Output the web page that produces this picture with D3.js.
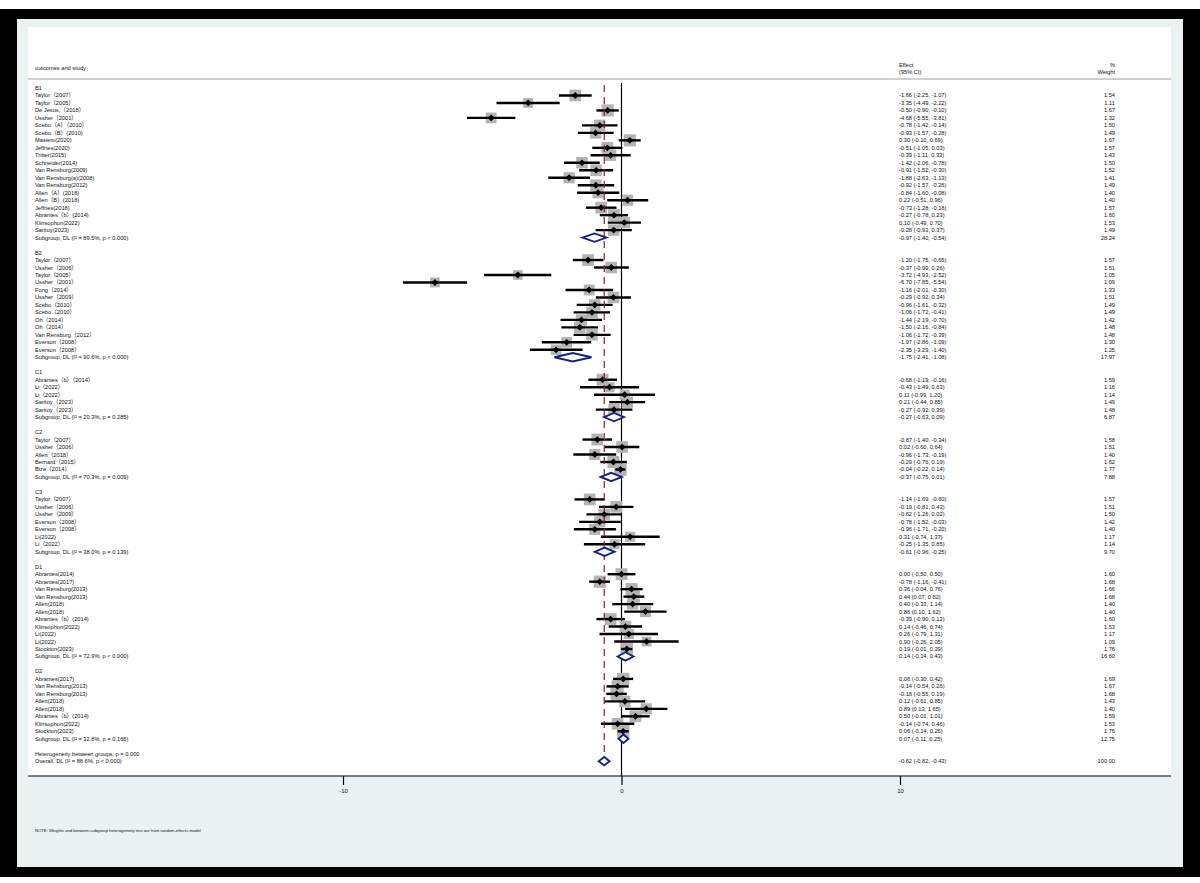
<!DOCTYPE html>
<html>
<head>
<meta charset="utf-8">
<script src="https://cdn.jsdelivr.net/npm/d3@7/dist/d3.min.js"></script>
<style>
  body { margin: 0; background: #fff; }
  svg { display: block; }
  text { font-family: "Liberation Sans", Arial, "Noto Sans CJK SC", sans-serif; fill: #111; }
</style>
</head>
<body>
<svg id="chart" width="1200" height="883"></svg>
<script>
// Study rows per outcome: [label, effect, lower, upper, weight %]
const groupB1 = [
  ["Taylor（2007）", -1.66, -2.25, -1.07, 1.54],
  ["Taylor（2005）", -3.35, -4.49, -2.22, 1.11],
  ["De Jesus,（2018）", -0.50, -0.90, -0.10, 1.67],
  ["Ussher（2001）", -4.68, -5.55, -3.81, 1.32],
  ["Scebo（A）（2010）", -0.78, -1.42, -0.14, 1.50],
  ["Scebo（B）(2010)", -0.93, -1.57, -0.28, 1.49],
  ["Masiero(2020)", 0.30, -0.10, 0.69, 1.67],
  ["Jeffries(2020)", -0.51, -1.05, 0.03, 1.57],
  ["Tritter(2015)", -0.39, -1.11, 0.33, 1.43],
  ["Schneider(2014)", -1.42, -2.06, -0.78, 1.50],
  ["Van Rensburg(2009)", -0.91, -1.52, -0.30, 1.52],
  ["Van Rensburg(a)(2008)", -1.88, -2.63, -1.13, 1.41],
  ["Van Rensburg(2012)", -0.92, -1.57, -0.26, 1.49],
  ["Allen（A）(2018)", -0.84, -1.60, -0.08, 1.40],
  ["Allen（B）(2018)", 0.22, -0.51, 0.96, 1.40],
  ["Jeffries(2018)", -0.73, -1.28, -0.18, 1.57],
  ["Abrantes（b）(2014)", -0.27, -0.78, 0.23, 1.60],
  ["Klinsophon(2022)", 0.10, -0.49, 0.70, 1.53],
  ["Saritoy(2023)", -0.28, -0.93, 0.37, 1.49]
];
const groupB2 = [
  ["Taylor（2007）", -1.20, -1.75, -0.65, 1.57],
  ["Ussher（2006）", -0.37, -0.99, 0.26, 1.51],
  ["Taylor（2005）", -3.72, -4.93, -2.52, 1.05],
  ["Ussher（2001）", -6.70, -7.85, -5.54, 1.09],
  ["Fong（2014）", -1.16, -2.01, -0.30, 1.33],
  ["Ussher（2009）", -0.29, -0.92, 0.34, 1.51],
  ["Scebo（2010）", -0.96, -1.61, -0.32, 1.49],
  ["Scebo（2010）", -1.06, -1.72, -0.41, 1.49],
  ["Oh（2014）", -1.44, -2.19, -0.70, 1.42],
  ["Oh（2014）", -1.50, -2.16, -0.84, 1.48],
  ["Van Rensburg（2012）", -1.06, -1.72, -0.39, 1.48],
  ["Everson（2008）", -1.97, -2.86, -1.09, 1.30],
  ["Everson（2008）", -2.35, -3.29, -1.40, 1.25]
];
const groupC1 = [
  ["Abrantes（b）（2014）", -0.68, -1.19, -0.16, 1.59],
  ["Li（2022）", -0.43, -1.49, 0.63, 1.16],
  ["Li（2022）", 0.11, -0.99, 1.20, 1.14],
  ["Saritoy（2023）", 0.21, -0.44, 0.85, 1.49],
  ["Saritoy（2023）", -0.27, -0.92, 0.39, 1.48]
];
const groupC2 = [
  ["Taylor（2007）", -0.87, -1.40, -0.34, 1.58],
  ["Ussher（2006）", 0.02, -0.60, 0.64, 1.51],
  ["Allen（2018）", -0.96, -1.73, -0.19, 1.40],
  ["Bernard（2015）", -0.29, -0.76, 0.19, 1.62],
  ["Bize（2014）", -0.04, -0.22, 0.14, 1.77]
];
const groupC3 = [
  ["Taylor（2007）", -1.14, -1.69, -0.60, 1.57],
  ["Ussher（2006）", -0.19, -0.81, 0.43, 1.51],
  ["Ussher（2009）", -0.62, -1.26, 0.02, 1.50],
  ["Everson（2008）", -0.78, -1.52, -0.03, 1.42],
  ["Everson（2008）", -0.96, -1.71, -0.20, 1.40],
  ["Li(2022)", 0.31, -0.74, 1.37, 1.17],
  ["Li（2022）", -0.25, -1.35, 0.85, 1.14]
];
const groupD1 = [
  ["Abrantes(2014)", 0.00, -0.50, 0.50, 1.60],
  ["Abrantes(2017)", -0.78, -1.16, -0.41, 1.68],
  ["Van Rensburg(2013)", 0.36, -0.04, 0.76, 1.66],
  ["Van Rensburg(2013)", 0.44, 0.07, 0.82, 1.68],
  ["Allen(2018)", 0.40, -0.33, 1.14, 1.40],
  ["Allen(2018)", 0.86, 0.10, 1.62, 1.40],
  ["Abrantes（b）(2014)", -0.39, -0.90, 0.12, 1.60],
  ["Klinsophon(2022)", 0.14, -0.46, 0.74, 1.53],
  ["Li(2022)", 0.26, -0.79, 1.31, 1.17],
  ["Li(2022)", 0.90, -0.26, 2.05, 1.09],
  ["Stockton(2023)", 0.19, -0.01, 0.39, 1.76]
];
const groupD2 = [
  ["Abrantes(2017)", 0.06, -0.30, 0.42, 1.69],
  ["Van Rensburg(2013)", -0.14, -0.54, 0.26, 1.67],
  ["Van Rensburg(2013)", -0.18, -0.55, 0.19, 1.68],
  ["Allen(2018)", 0.12, -0.61, 0.85, 1.43],
  ["Allen(2018)", 0.89, 0.13, 1.65, 1.40],
  ["Abrantes（b）(2014)", 0.50, -0.01, 1.01, 1.59],
  ["Klinsophon(2022)", -0.14, -0.74, 0.46, 1.53],
  ["Stockton(2023)", 0.06, -0.14, 0.26, 1.76]
];

// Outcome names, their studies and pooled (DL random-effects) results
const outcomeNames = ["B1", "B2", "C1", "C2", "C3", "D1", "D2"];
const outcomeStudies = [groupB1, groupB2, groupC1, groupC2, groupC3, groupD1, groupD2];
const subgroupI2 = ["89.5%", "90.6%", "20.3%", "70.3%", "38.0%", "72.9%", "32.8%"];
const subgroupP = ["< 0.000", "< 0.000", "= 0.285", "= 0.009", "= 0.139", "< 0.000", "= 0.166"];
const subgroupEffect = [-0.97, -1.75, -0.27, -0.37, -0.61, 0.14, 0.07];
const subgroupLower = [-1.40, -2.41, -0.63, -0.75, -0.96, -0.14, -0.11];
const subgroupUpper = [-0.54, -1.08, 0.09, 0.01, -0.25, 0.43, 0.25];
const subgroupWeight = ["28.24", "17.97", "6.87", "7.88", "9.70", "16.60", "12.75"];

const overall = { effect: -0.62, lower: -0.82, upper: -0.43, i2: "88.6%", p: "< 0.000", weight: "100.00" };
const betweenGroupsP = "= 0.000";
const xTicks = [-10, 0, 10];

// ---- layout ----
const svg = d3.select("#chart");
const W = 1200, H = 883;
const frame = { x: 0, y: 9, w: 1200, h: 868, thick: 10 };
const plot = { left: 28, right: 1171, top: 27, bottom: 776 };
const firstRowY = 88, rowStep = 7.48;
const labelX = 35, effectX = 899, weightX = 1115;
const fontSize = 5.7;

const x = d3.scaleLinear().domain([-10, 10]).range([343, 900]);
// numbers are printed with a plain hyphen-minus
const fmt = v => d3.format(".2f")(v).replace("−", "-");

// build row list
const rows = [];
outcomeNames.forEach((name, g) => {
  rows.push({ type: "header", label: name });
  outcomeStudies[g].forEach(s => rows.push({ type: "study", label: s[0], es: s[1], lo: s[2], hi: s[3], w: s[4] }));
  rows.push({
    type: "subgroup",
    label: `Subgroup, DL (I² = ${subgroupI2[g]}, p ${subgroupP[g]})`,
    es: subgroupEffect[g], lo: subgroupLower[g], hi: subgroupUpper[g], wText: subgroupWeight[g]
  });
  rows.push({ type: "blank" });
});
rows.push({ type: "het", label: `Heterogeneity between groups: p ${betweenGroupsP}` });
rows.push({
  type: "overall", label: `Overall, DL (I² = ${overall.i2}, p ${overall.p})`,
  es: overall.effect, lo: overall.lower, hi: overall.upper, wText: overall.weight
});
const y = i => firstRowY + i * rowStep;

// ---- frame and backgrounds ----
svg.append("rect").attr("x", 0).attr("y", 0).attr("width", W).attr("height", H).attr("fill", "#fff");
svg.append("rect").attr("x", frame.x).attr("y", frame.y).attr("width", frame.w).attr("height", frame.h).attr("fill", "#000");
svg.append("rect").attr("x", 17).attr("y", frame.y + frame.thick)
  .attr("width", 1183 - 17).attr("height", frame.h - 2 * frame.thick).attr("fill", "#eaf2f3");
svg.append("rect").attr("x", plot.left).attr("y", plot.top)
  .attr("width", plot.right - plot.left).attr("height", plot.bottom - plot.top).attr("fill", "#fff");

// ---- column headers ----
const hdr = svg.append("g").attr("font-size", fontSize);
hdr.append("text").attr("x", labelX).attr("y", 70).text("outcomes and study");
hdr.append("text").attr("x", effectX).attr("y", 67).text("Effect");
hdr.append("text").attr("x", effectX).attr("y", 74).text("(95% CI)");
hdr.append("text").attr("x", weightX).attr("y", 67).attr("text-anchor", "end").text("%");
hdr.append("text").attr("x", weightX).attr("y", 74).attr("text-anchor", "end").text("Weight");
svg.append("line").attr("x1", plot.left).attr("x2", plot.right).attr("y1", 79).attr("y2", 79)
  .attr("stroke", "#a0a0a0").attr("stroke-width", 1.2);

// ---- reference line at zero ----
const overallIdx = rows.length - 1;
svg.append("line").attr("x1", x(0)).attr("x2", x(0)).attr("y1", 83).attr("y2", plot.bottom)
  .attr("stroke", "#000").attr("stroke-width", 1.2);

// ---- study markers ----
const marks = svg.append("g");
const studyRows = rows.map((r, i) => ({ ...r, i })).filter(r => r.type === "study");
const boxSide = w => 9.4 * Math.sqrt(w);
marks.selectAll("rect.box").data(studyRows).join("rect")
  .attr("class", "box")
  .attr("x", d => x(d.es) - boxSide(d.w) / 2).attr("y", d => y(d.i) - boxSide(d.w) / 2)
  .attr("width", d => boxSide(d.w)).attr("height", d => boxSide(d.w))
  .attr("fill", "#b4b4b4");
marks.selectAll("line.ci").data(studyRows).join("line")
  .attr("class", "ci")
  .attr("x1", d => x(d.lo)).attr("x2", d => x(d.hi)).attr("y1", d => y(d.i)).attr("y2", d => y(d.i))
  .attr("stroke", "#000").attr("stroke-width", 2.4);
marks.selectAll("path.pt").data(studyRows).join("path")
  .attr("class", "pt")
  .attr("d", d => {
    const cx = x(d.es), cy = y(d.i), r = 3.4;
    return `M${cx - r},${cy}L${cx},${cy - r}L${cx + r},${cy}L${cx},${cy + r}Z`;
  })
  .attr("fill", "#000");

// overall effect dashed line
svg.append("line").attr("x1", x(overall.effect)).attr("x2", x(overall.effect))
  .attr("y1", 85).attr("y2", y(overallIdx) - 4)
  .attr("stroke", "#8c1c2c").attr("stroke-width", 1.2).attr("stroke-dasharray", "7,5");

// ---- pooled diamonds ----
const pooled = rows.map((r, i) => ({ ...r, i })).filter(r => r.type === "subgroup" || r.type === "overall");
svg.append("g").selectAll("path").data(pooled).join("path")
  .attr("d", d => {
    const cy = y(d.i), h = 4.2;
    return `M${x(d.lo)},${cy}L${x(d.es)},${cy - h}L${x(d.hi)},${cy}L${x(d.es)},${cy + h}Z`;
  })
  .attr("fill", "#fff").attr("stroke", "#14218a").attr("stroke-width", 1.9);

// ---- text columns ----
const txt = svg.append("g").attr("font-size", fontSize);
const indexed = rows.map((r, i) => ({ ...r, i })).filter(r => r.type !== "blank");
txt.selectAll("text.lab").data(indexed).join("text")
  .attr("class", "lab").attr("x", labelX).attr("y", d => y(d.i)).attr("dy", "0.35em")
  .text(d => d.label);
const withEs = indexed.filter(r => r.es !== undefined);
txt.selectAll("text.eff").data(withEs).join("text")
  .attr("class", "eff").attr("x", effectX).attr("y", d => y(d.i)).attr("dy", "0.35em")
  .text(d => `${fmt(d.es)} (${fmt(d.lo)}, ${fmt(d.hi)})`);
txt.selectAll("text.wt").data(withEs).join("text")
  .attr("class", "wt").attr("x", weightX).attr("y", d => y(d.i)).attr("dy", "0.35em")
  .attr("text-anchor", "end")
  .text(d => d.type === "study" ? fmt(d.w) : d.wText);

// ---- x axis ----
svg.append("line").attr("x1", plot.left).attr("x2", plot.right).attr("y1", plot.bottom).attr("y2", plot.bottom)
  .attr("stroke", "#000").attr("stroke-width", 1.2);
const axis = d3.axisBottom(x).tickValues(xTicks).tickSize(9).tickPadding(4)
  .tickFormat(d => String(d));
const ax = svg.append("g").attr("transform", `translate(0,${plot.bottom})`).call(axis);
ax.select(".domain").remove();
ax.selectAll(".tick line").attr("stroke", "#000").attr("stroke-width", 1.2);
ax.selectAll(".tick text").attr("font-size", 6).attr("font-family", "Liberation Sans, Arial, sans-serif").attr("fill", "#111");

// ---- note ----
svg.append("text").attr("x", labelX).attr("y", 832).attr("font-size", 4.2)
  .text("NOTE: Weights and between-subgroup heterogeneity test are from random-effects model");
</script>
</body>
</html>
